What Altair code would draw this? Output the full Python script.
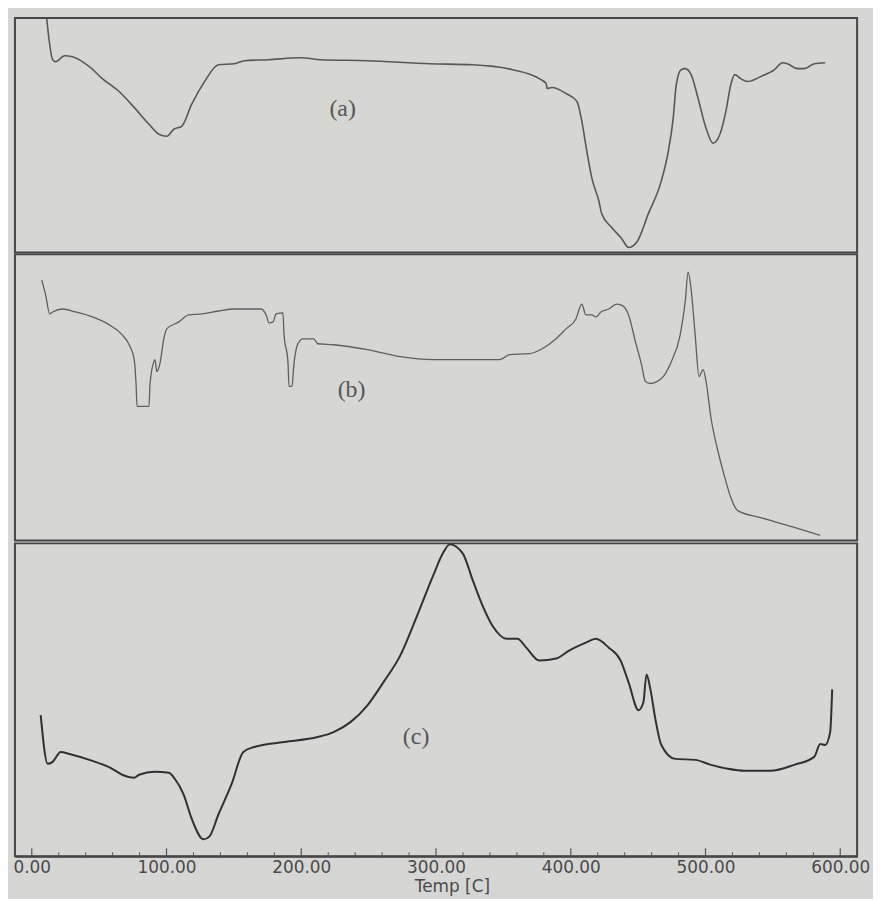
import altair as alt
import pandas as pd

# ---- data (temperature in C, signal in arbitrary units) ----
temp_a = [11.1, 15.5, 17.7, 24.3, 30.2, 42.7, 52.3, 64.8, 76.6, 87.0, 94.3, 100.2, 105.4, 111.3,
          118.6, 128.2, 138.5, 150.3, 157.7, 175.4, 199.7, 214.4, 249.1, 295.5, 327.2, 356.7,
          376.6, 381.7, 382.5, 386.1, 396.5, 404.6, 408.2, 411.9, 415.6, 420.8, 423.0, 430.4,
          437.7, 442.9, 448.8, 457.6, 467.2, 472.4, 476.0, 478.3, 481.9, 484.9, 489.3, 494.5,
          500.4, 505.5, 510.7, 515.1, 518.8, 521.7, 526.1, 531.3, 540.9, 551.2, 557.1, 560.8,
          568.2, 573.3, 580.7, 588.8]
sig_a = [235, 194, 192, 198, 197, 187, 175, 162, 145, 129, 119, 117, 124, 127,
         149, 172, 189, 190, 193, 194, 196, 194, 193, 190, 189, 184,
         175, 170, 165, 166, 160, 152, 132, 102, 75, 52, 39, 25,
         14, 5, 10, 39, 72, 102, 135, 169, 184, 185, 179, 155,
         125, 110, 119, 142, 169, 179, 175, 172, 177, 184, 191, 190,
         185, 185, 190, 191]

temp_b = [7.4, 10.3, 13.3, 15.5, 22.8, 32.4, 45.0, 57.5, 67.1, 73.0, 75.9, 77.4, 78.1, 87.0,
          87.7, 90.6, 91.4, 92.8, 95.1, 98.0, 100.2, 109.1, 116.4, 126.0, 138.5, 150.3, 170.2,
          173.9, 176.1, 179.1, 181.3, 186.4, 187.2, 190.1, 190.9, 193.1, 194.5, 197.5, 201.2,
          209.3, 212.2, 224.0, 249.1, 273.4, 297.7, 347.1, 354.5, 369.2, 378.8, 389.1, 396.5,
          403.8, 408.2, 411.2, 415.6, 418.6, 422.3, 428.2, 434.0, 437.7, 442.9, 448.0, 452.5,
          455.4, 459.1, 467.2, 474.6, 481.2, 484.9, 487.1, 489.3, 492.3, 495.2, 498.2, 500.4,
          504.1, 509.2, 514.4, 518.8, 523.9, 540.9, 553.4, 565.9, 585.1]
sig_b = [262, 247, 228, 230, 233, 230, 225, 217, 207, 195, 183, 157, 135, 135,
         157, 180, 182, 170, 178, 203, 213, 220, 227, 228, 231, 233, 233,
         227, 219, 220, 228, 229, 207, 180, 155, 155, 177, 198, 203,
         203, 198, 197, 192, 185, 182, 182, 187, 188, 193, 203, 213,
         223, 238, 227, 227, 225, 230, 233, 238, 237, 227, 200, 177,
         160, 158, 163, 180, 207, 240, 270, 253, 207, 165, 172, 160,
         123, 90, 63, 43, 30, 23, 18, 13, 5]

temp_c = [6.6, 11.8, 15.5, 21.4, 28.0, 42.7, 59.7, 67.1, 75.9, 79.6, 91.4, 101.7, 106.1, 112.7,
          118.6, 127.5, 131.9, 138.5, 148.1, 157.0, 165.1, 187.2, 212.2, 224.0, 236.5, 249.1,
          260.9, 273.4, 285.9, 297.7, 305.1, 310.2, 319.8, 327.2, 334.6, 341.9, 352.2, 360.4,
          367.0, 376.6, 389.1, 398.7, 411.2, 418.6, 428.2, 437.0, 442.9, 450.3, 453.9, 456.2,
          459.1, 462.8, 467.2, 477.5, 492.3, 504.1, 516.6, 529.1, 548.3, 565.9, 580.7, 585.1,
          588.8, 592.5, 594.0]
sig_c = [142, 93, 95, 105, 103, 97, 88, 82, 79, 82, 85, 84, 78, 62,
         38, 17, 20, 42, 72, 105, 110, 115, 120, 125, 135, 152,
         175, 202, 242, 282, 305, 314, 305, 278, 252, 232, 219, 219,
         210, 197, 199, 207, 215, 219, 210, 197, 175, 147, 155, 183,
         168, 138, 112, 98, 97, 92, 88, 86, 86, 92, 100, 113,
         112, 125, 168]

panel_labels = ["(a)", "(b)", "(c)"]
label_temp = [230.7, 237.3, 285.2]
label_sig = [144, 151, 120]

tick_values = list(range(0, 601, 20))
label_values = [0, 100, 200, 300, 400, 500, 600]

# ---- styling ----
BG = "#d6d6d4"
FRAME = "#454545"
X_DOMAIN = [-12.5, 612.5]
W = 848
HEIGHTS = [236, 288, 315]
LINE_COLORS = ["#575757", "#5e5e5e", "#303030"]
LINE_WIDTHS = [1.6, 1.3, 2.0]


def xscale():
    return alt.Scale(domain=X_DOMAIN, nice=False, zero=False)


def panel(temps, sigs, idx, with_axis):
    h = HEIGHTS[idx]
    df = pd.DataFrame({"temp": temps, "sig": sigs, "order": range(len(temps))})
    lab = pd.DataFrame({"temp": [label_temp[idx]], "sig": [label_sig[idx]],
                        "txt": [panel_labels[idx]]})
    if with_axis:
        xax = alt.Axis(values=label_values, format=".2f", ticks=False,
                       labelFont="DejaVu Sans", labelFontSize=17, labelColor="#4a4a4a",
                       labelPadding=3, title="Temp [C]", titleFont="DejaVu Sans",
                       titleFontSize=17, titleFontWeight="normal", titleColor="#4a4a4a",
                       titlePadding=4, titleX=440, domainColor=FRAME, domainWidth=2,
                       grid=False)
    else:
        xax = None
    yscale = alt.Scale(domain=[0, h], nice=False, zero=False)
    x = alt.X("temp:Q", scale=xscale(), axis=xax, title="Temp [C]" if with_axis else None)
    y = alt.Y("sig:Q", scale=yscale, axis=None)
    line = alt.Chart(df).mark_line(color=LINE_COLORS[idx], strokeWidth=LINE_WIDTHS[idx],
                                   strokeJoin="round", interpolate="monotone").encode(
        x=x, y=y, order="order:Q")
    text = alt.Chart(lab).mark_text(font="Liberation Serif", fontSize=24, color="#555555",
                                    align="center", baseline="middle").encode(
        x=alt.X("temp:Q", scale=xscale(), axis=xax),
        y=alt.Y("sig:Q", scale=yscale, axis=None),
        text="txt:N")
    layers = [line, text]
    if with_axis:
        tdf = pd.DataFrame({"t": tick_values,
                            "len": [8 if v % 100 == 0 else 4 for v in tick_values]})
        major = alt.Chart(tdf).transform_filter("datum.len == 8").mark_rule(
            color="#555555", strokeWidth=1.2).encode(
            x=alt.X("t:Q", scale=xscale(), axis=xax),
            y=alt.value(h - 8), y2=alt.value(h))
        minor = alt.Chart(tdf).transform_filter("datum.len == 4").mark_rule(
            color="#555555", strokeWidth=1).encode(
            x=alt.X("t:Q", scale=xscale(), axis=xax),
            y=alt.value(h - 4), y2=alt.value(h))
        layers = [major, minor] + layers
    return alt.layer(*layers).properties(width=W, height=h)


chart = alt.vconcat(
    panel(temp_a, sig_a, 0, False),
    panel(temp_b, sig_b, 1, False),
    panel(temp_c, sig_c, 2, True),
    spacing=0,
).properties(
    background=BG,
    padding={"left": 4, "top": 6, "right": 2, "bottom": 0},
).configure_view(
    stroke=FRAME, strokeWidth=2, fill=BG
).configure_concat(spacing=0)

chart.save("out.html", embed_options={"renderer": "svg", "actions": False})
